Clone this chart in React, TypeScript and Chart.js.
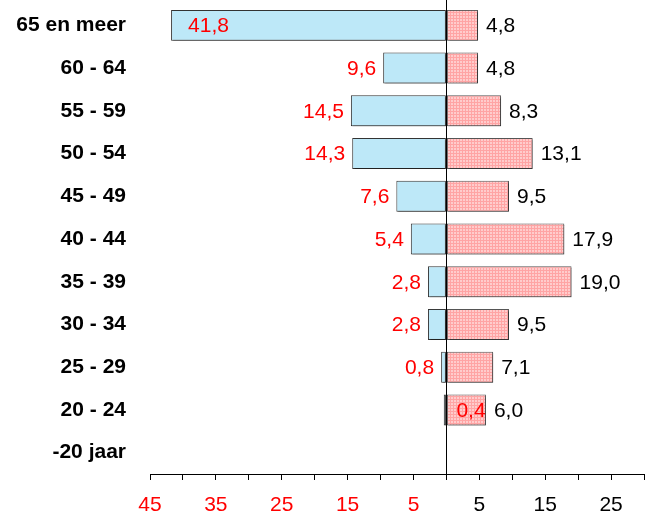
import React, { useEffect, useRef } from "react";
import { Chart, registerables } from "chart.js";

Chart.register(...registerables);

const categories = [
  "65 en meer",
  "60 - 64",
  "55 - 59",
  "50 - 54",
  "45 - 49",
  "40 - 44",
  "35 - 39",
  "30 - 34",
  "25 - 29",
  "20 - 24",
  "-20 jaar",
];
const leftValues: (number | null)[] = [41.8, 9.6, 14.5, 14.3, 7.6, 5.4, 2.8, 2.8, 0.8, 0.4, null];
const rightValues: (number | null)[] = [4.8, 4.8, 8.3, 13.1, 9.5, 17.9, 19.0, 9.5, 7.1, 6.0, null];
const axisMin = -45;
const axisMax = 30;
const axisStep = 5;

const FONT = "'Liberation Sans', Arial, sans-serif";
const FONT_SIZE = 21;

function fmt(v: number) {
  return v.toFixed(1).replace(".", ",");
}

function makePattern(): CanvasPattern | string {
  const c = document.createElement("canvas");
  c.width = 3;
  c.height = 3;
  const g = c.getContext("2d");
  if (!g) return "#FFB8B8";
  g.fillStyle = "#FFA4A4";
  g.fillRect(0, 0, 3, 3);
  g.fillStyle = "#FFCCCC";
  g.fillRect(1, 1, 2, 2);
  const p = g.createPattern(c, "repeat");
  return p || "#FFB8B8";
}

const labelPlugin = {
  id: "valueLabels",
  beforeDatasetsDraw(chart: any) {
    const ctx = chart.ctx;
    ctx.save();
    ctx.shadowColor = "rgba(0,0,0,0.35)";
    ctx.shadowOffsetX = 1.5;
    ctx.shadowOffsetY = 1.5;
    ctx.shadowBlur = 0;
  },
  afterDatasetsDraw(chart: any) {
    const ctx = chart.ctx;
    ctx.restore();
    const xs = chart.scales.x;
    const zeroX = xs.getPixelForValue(0);
    ctx.save();
    ctx.strokeStyle = "#000";
    ctx.lineWidth = 1;
    ctx.beginPath();
    ctx.moveTo(Math.round(zeroX) + 0.5, 0);
    ctx.lineTo(Math.round(zeroX) + 0.5, chart.chartArea.bottom);
    ctx.stroke();
    ctx.restore();

    ctx.save();
    ctx.font = `${FONT_SIZE}px ${FONT}`;
    ctx.textBaseline = "middle";
    const metaR = chart.getDatasetMeta(1);
    rightValues.forEach((v, i) => {
      if (v == null) return;
      const el = metaR.data[i];
      ctx.fillStyle = "#000";
      ctx.textAlign = "left";
      ctx.fillText(fmt(v), el.x + 8, el.y + 1);
    });
    const metaL = chart.getDatasetMeta(0);
    leftValues.forEach((v, i) => {
      if (v == null) return;
      const el = metaL.data[i];
      ctx.fillStyle = "#FF0000";
      if (v > 40) {
        ctx.textAlign = "left";
        ctx.fillText(fmt(v), el.x + 17, el.y + 1);
      } else if (v < 0.5) {
        ctx.textAlign = "left";
        ctx.fillText(fmt(v), zeroX + 10, el.y + 1);
      } else {
        ctx.textAlign = "right";
        ctx.fillText(fmt(v), el.x - 7, el.y + 1);
      }
    });
    ctx.restore();
  },
};

export default function App() {
  const ref = useRef<HTMLCanvasElement | null>(null);
  useEffect(() => {
    if (!ref.current) return;
    const pattern = makePattern();
    const chart = new Chart(ref.current, {
      type: "bar",
      data: {
        labels: categories,
        datasets: [
          {
            label: "links",
            data: leftValues.map((v) => (v == null ? null : -v)),
            backgroundColor: "#BDE8F8",
            borderColor: "#333333",
            borderWidth: 1,
            borderSkipped: false,
            barPercentage: 0.725,
            categoryPercentage: 1,
          },
          {
            label: "rechts",
            data: rightValues,
            backgroundColor: pattern as any,
            borderColor: "#555555",
            borderWidth: 1,
            borderSkipped: false,
            barPercentage: 0.725,
            categoryPercentage: 1,
          },
        ],
      },
      options: {
        indexAxis: "y",
        animation: false,
        responsive: true,
        maintainAspectRatio: false,
        layout: { padding: { left: 0, right: 8, top: 4, bottom: 0 } },
        plugins: {
          legend: { display: false },
          tooltip: { enabled: false },
        },
        scales: {
          x: {
            type: "linear",
            min: axisMin,
            max: axisMax,
            stacked: true,
            afterFit: (s: any) => {
              s.height = 41;
              s.paddingLeft = 0;
              s.paddingRight = 0;
            },
            ticks: {
              stepSize: axisStep,
              autoSkip: false,
              maxRotation: 0,
              padding: 13,
              font: { family: FONT, size: FONT_SIZE },
              color: (c: any) => (c.tick && c.tick.value < 0 ? "#FF0000" : "#000000"),
              callback: (v: any) => {
                const a = Math.abs(Number(v));
                const k = Math.round(a / axisStep);
                return k % 2 === 1 ? String(a) : "";
              },
            },
            grid: {
              drawOnChartArea: false,
              drawTicks: true,
              tickLength: 6,
              color: "#000",
              lineWidth: 1,
            },
            border: { display: true, color: "#000", width: 1 },
          },
          y: {
            type: "category",
            stacked: true,
            offset: true,
            afterFit: (s: any) => {
              s.width = 150;
              s.paddingTop = 0;
              s.paddingBottom = 0;
            },
            ticks: {
              padding: 24,
              color: "#000",
              font: { family: FONT, size: FONT_SIZE, weight: "bold" },
            },
            grid: { display: false, drawTicks: false },
            border: { display: false },
          },
        },
      },
      plugins: [labelPlugin],
    });
    return () => chart.destroy();
  }, []);
  return (
    <div style={{ position: "fixed", left: 0, top: 0, width: 652, height: 515, background: "#fff" }}>
      <canvas ref={ref} />
    </div>
  );
}
